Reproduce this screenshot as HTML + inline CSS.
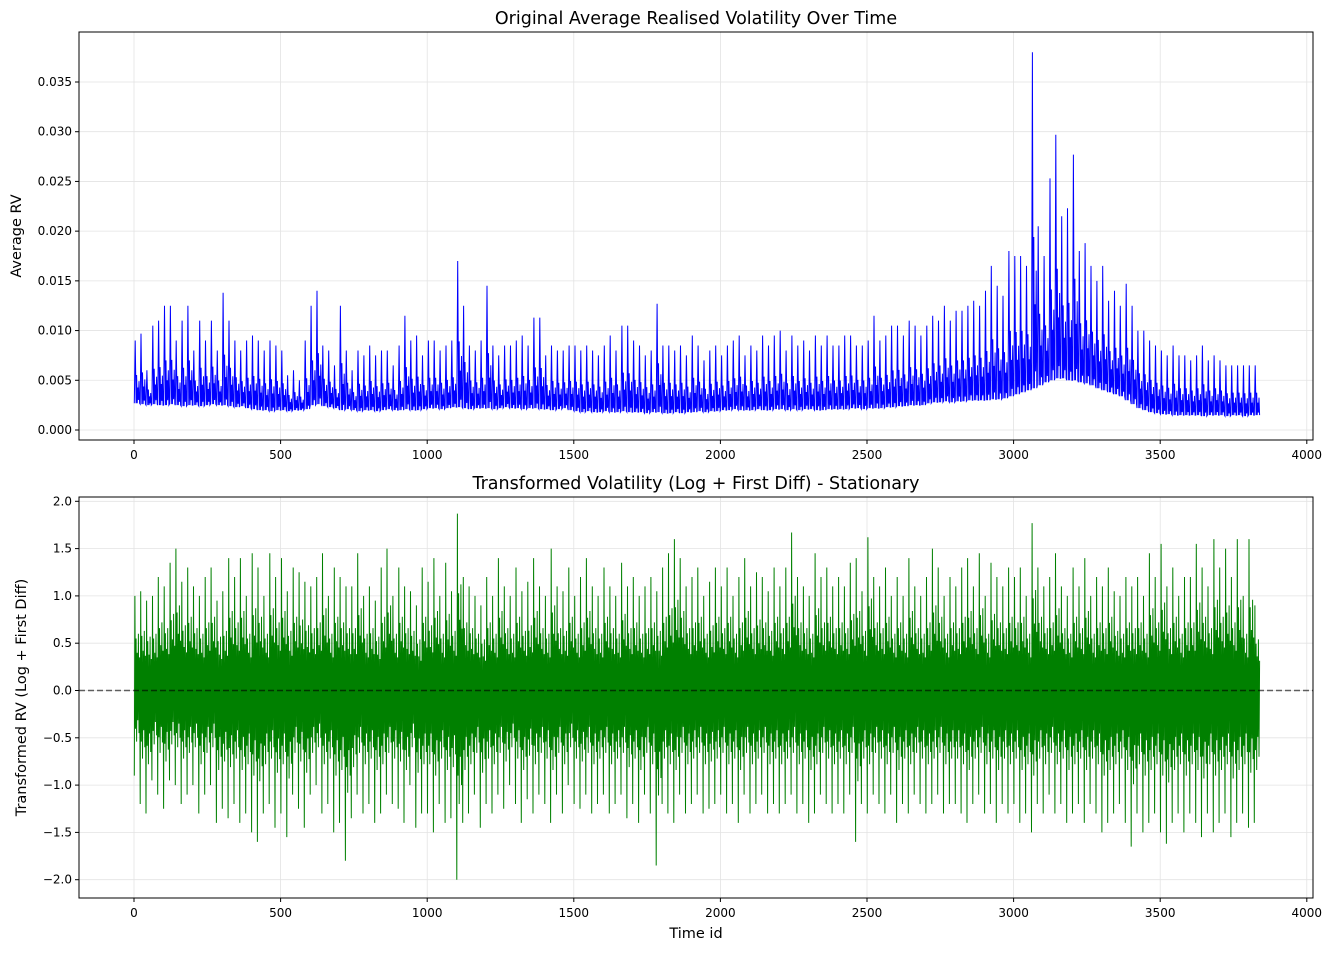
<!DOCTYPE html>
<html><head><meta charset="utf-8"><style>
body{margin:0;background:#fff}
text{font-family:"DejaVu Sans","Liberation Sans",sans-serif;fill:#000}
</style></head><body>
<svg id="chart" width="1333" height="950" xmlns="http://www.w3.org/2000/svg"></svg>
<script>
// Bucket size in time ids (each bucket summarised by its observed high and low)
const bucketSize = 20;
const rvHigh = [
0.009,0.0097,0.006,0.0105,0.011, 0.0125,0.0125,0.009,0.011,0.0125,
0.008,0.011,0.009,0.011,0.008, 0.0138,0.011,0.009,0.008,0.009,
0.0095,0.009,0.008,0.009,0.0085, 0.008,0.0055,0.006,0.005,0.009,
0.0125,0.014,0.0085,0.008,0.0065, 0.0125,0.008,0.006,0.008,0.0075,
0.0085,0.0075,0.008,0.008,0.0065, 0.0085,0.0115,0.009,0.0095,0.0075,
0.009,0.009,0.008,0.0085,0.009, 0.017,0.0125,0.0085,0.008,0.009,
0.0145,0.0085,0.0075,0.0085,0.0085, 0.009,0.0095,0.0085,0.0113,0.0113,
0.0075,0.0085,0.008,0.008,0.0085, 0.0085,0.008,0.0085,0.008,0.0075,
0.0085,0.0095,0.008,0.0105,0.0105, 0.009,0.0085,0.0075,0.008,0.0127,
0.0085,0.0085,0.008,0.0085,0.0075, 0.0095,0.0085,0.007,0.008,0.0085,
0.0075,0.0085,0.009,0.0095,0.0075, 0.0085,0.008,0.0095,0.0085,0.0095,
0.01,0.008,0.0095,0.0085,0.009, 0.008,0.0095,0.0085,0.0095,0.0085,
0.0085,0.0095,0.0095,0.0085,0.0085, 0.009,0.0115,0.009,0.0095,0.0105,
0.0105,0.0095,0.011,0.0105,0.0095, 0.0105,0.0115,0.011,0.0125,0.011,
0.012,0.012,0.0125,0.013,0.0125, 0.014,0.0165,0.0145,0.0135,0.018,
0.0175,0.0175,0.0165,0.038,0.0205, 0.0175,0.0253,0.0297,0.0215,0.0223,
0.0277,0.018,0.0188,0.0165,0.015, 0.0165,0.013,0.014,0.0125,0.0147,
0.0125,0.01,0.01,0.009,0.0085, 0.008,0.0075,0.0085,0.0075,0.0075,
0.007,0.0075,0.0085,0.007,0.0075, 0.007,0.0065,0.0065,0.0065,0.0065,
0.0065,0.0065];
const rvLow = [
0.0027,0.0026,0.0025,0.0026,0.0025, 0.0025,0.0026,0.0025,0.0024,0.0025,
0.0025,0.0024,0.0025,0.0026,0.0025, 0.0025,0.0024,0.0023,0.0024,0.0022,
0.0021,0.002,0.002,0.0019,0.002, 0.002,0.0019,0.002,0.002,0.0021,
0.0025,0.0026,0.0024,0.0023,0.0022, 0.002,0.0021,0.002,0.0019,0.002,
0.002,0.0019,0.002,0.0021,0.002, 0.002,0.0021,0.002,0.002,0.0021,
0.0022,0.0022,0.0021,0.0022,0.0023, 0.0023,0.0022,0.0021,0.0022,0.0022,
0.0022,0.0021,0.0022,0.0023,0.0022, 0.0022,0.0021,0.0022,0.0022,0.0021,
0.0021,0.002,0.0021,0.0022,0.002, 0.0019,0.0018,0.0019,0.0018,0.0018,
0.0019,0.0018,0.0018,0.0019,0.0018, 0.0018,0.0018,0.0017,0.0018,0.0018,
0.0017,0.0017,0.0018,0.0017,0.0018, 0.0018,0.0019,0.0018,0.0019,0.0019,
0.002,0.002,0.0021,0.002,0.002, 0.002,0.0021,0.002,0.002,0.0021,
0.0021,0.002,0.0021,0.002,0.0021, 0.0021,0.002,0.002,0.0021,0.0021,
0.0021,0.0021,0.0022,0.0022,0.0021, 0.0022,0.0022,0.0022,0.0023,0.0023,
0.0024,0.0024,0.0025,0.0025,0.0025, 0.0027,0.0028,0.0028,0.0029,0.0028,
0.0029,0.0029,0.003,0.003,0.003, 0.003,0.0031,0.0031,0.0032,0.0034,
0.0036,0.0038,0.004,0.0042,0.0045, 0.0048,0.005,0.0052,0.0052,0.005,
0.005,0.0048,0.0047,0.0045,0.0042, 0.004,0.0038,0.0036,0.0034,0.003,
0.0026,0.0022,0.002,0.0018,0.0017, 0.0016,0.0016,0.0015,0.0015,0.0015,
0.0015,0.0015,0.0014,0.0015,0.0015, 0.0015,0.0014,0.0015,0.0015,0.0014,
0.0015,0.0015];
const diffHigh = [
1.0,1.05,0.95,1.0,1.2,1.1,1.35,1.5,1.15,1.3,
1.1,1.0,1.2,1.3,0.95,1.05,1.4,1.2,1.4,1.0,
1.45,1.3,1.0,1.45,1.2,1.4,1.05,1.3,1.25,1.15,
1.1,1.2,1.45,1.0,1.3,1.2,1.1,1.1,1.45,1.0,
1.1,0.95,1.3,1.5,1.0,1.3,1.1,1.05,0.9,1.3,
1.15,1.4,1.0,1.35,1.05,1.87,1.2,1.1,1.0,0.9,
1.2,1.0,1.4,1.1,1.0,1.3,1.05,1.15,1.4,1.1,
1.0,1.5,1.1,1.05,1.3,1.0,1.2,1.4,1.1,1.0,
1.3,1.1,1.0,1.35,1.1,1.2,1.0,1.1,1.2,1.05,
1.3,1.45,1.6,1.4,1.1,1.2,1.3,1.0,1.15,1.3,
1.1,1.3,1.0,1.2,1.4,1.1,1.25,1.2,1.05,1.3,
1.1,1.3,1.67,1.2,1.1,1.0,1.45,1.2,1.3,1.1,
1.2,1.1,1.35,1.4,1.05,1.62,1.2,1.1,1.3,1.0,
1.2,1.0,1.4,1.1,1.0,1.2,1.5,1.3,1.0,1.2,
1.1,1.3,1.4,1.1,1.45,1.0,1.35,1.2,1.1,1.3,
1.2,1.3,1.0,1.77,1.3,1.1,1.2,1.45,1.1,1.0,
1.3,1.1,1.4,1.0,1.2,1.1,1.3,1.05,1.0,1.2,
1.1,1.2,1.0,1.45,1.2,1.55,1.1,1.3,1.0,1.2,
1.2,1.55,1.3,1.1,1.6,1.3,1.5,1.2,1.6,1.0,
1.6,0.9];
const diffLow = [
-0.9,-1.2,-1.3,-0.95,-1.1,-1.25,-0.95,-1.0,-1.2,-1.1,
-1.0,-1.3,-1.1,-1.0,-1.4,-1.25,-1.35,-1.2,-1.4,-1.3,
-1.5,-1.6,-1.3,-1.2,-1.45,-1.3,-1.55,-1.1,-1.25,-1.45,
-1.1,-1.0,-1.3,-1.2,-1.5,-1.4,-1.8,-1.35,-1.1,-1.3,
-1.2,-1.4,-1.3,-1.1,-1.2,-1.25,-1.4,-1.0,-1.45,-1.3,
-1.3,-1.5,-1.2,-1.4,-1.35,-2.0,-1.4,-1.3,-1.1,-1.45,
-1.2,-1.3,-1.1,-1.25,-1.0,-1.2,-1.4,-1.15,-1.3,-1.1,
-1.2,-1.4,-1.1,-1.3,-1.0,-1.2,-1.25,-1.1,-1.3,-1.2,
-1.1,-1.3,-1.2,-1.1,-1.35,-1.2,-1.4,-1.1,-1.3,-1.85,
-1.2,-1.3,-1.4,-1.1,-1.3,-1.2,-1.1,-1.3,-1.25,-1.2,
-1.1,-1.3,-1.2,-1.4,-1.1,-1.3,-1.2,-1.1,-1.3,-1.2,
-1.3,-1.2,-1.1,-1.3,-1.2,-1.4,-1.3,-1.1,-1.2,-1.3,
-1.2,-1.3,-1.1,-1.6,-1.2,-1.3,-1.1,-1.2,-1.3,-1.1,
-1.4,-1.2,-1.3,-1.1,-1.2,-1.3,-1.2,-1.1,-1.3,-1.2,
-1.2,-1.3,-1.4,-1.2,-1.1,-1.3,-1.2,-1.4,-1.2,-1.3,
-1.2,-1.4,-1.3,-1.5,-1.2,-1.3,-1.1,-1.3,-1.2,-1.4,
-1.3,-1.2,-1.4,-1.2,-1.3,-1.5,-1.4,-1.3,-1.2,-1.4,
-1.65,-1.3,-1.5,-1.4,-1.3,-1.5,-1.62,-1.4,-1.3,-1.5,
-1.3,-1.4,-1.55,-1.3,-1.5,-1.4,-1.3,-1.55,-1.4,-1.3,
-1.45,-1.4];
const xTicks = [0,500,1000,1500,2000,2500,3000,3500,4000];
const topYTicks = [0,0.005,0.01,0.015,0.02,0.025,0.03,0.035];
const topYLabels = ["0.000","0.005","0.010","0.015","0.020","0.025","0.030","0.035"];
const botYTicks = [-2,-1.5,-1,-0.5,0,0.5,1,1.5,2];
const botYLabels = ["\u22122.0","\u22121.5","\u22121.0","\u22120.5","0.0","0.5","1.0","1.5","2.0"];

const NS = "http://www.w3.org/2000/svg";
const svg = document.getElementById('chart');
function mk(tag, attrs, parent){
  const e = document.createElementNS(NS, tag);
  for (const k in attrs) e.setAttribute(k, attrs[k]);
  (parent||svg).appendChild(e);
  return e;
}
const L = 79, R = 1313;
const xS = t => 134 + t * 0.2932;
const panels = [
  {top:32, bottom:440, y:v => 430 - v * 9943, ticks:topYTicks, labels:topYLabels,
   title:"Original Average Realised Volatility Over Time", ylabel:"Average RV", name:"original"},
  {top:497, bottom:898, y:v => 690.5 - v * 94.6, ticks:botYTicks, labels:botYLabels,
   title:"Transformed Volatility (Log + First Diff) - Stationary", ylabel:"Transformed RV (Log + First Diff)", name:"transformed"}
];
// sub-bucket shape: fractions of the bucket range visited within each bucket
const topShape = [[1,0],[4,1],[7,0],[9,0.45],[11,0],[13,0.25],[15,0.05],[17,0.35],[19,0]];
const botShape = [[1,-1],[3,1],[5,-0.45],[7,0.55],[9,-0.6],[11,0.4],[13,-0.35],[15,0.6],[17,-0.5],[19,0.35]];
panels.forEach((p, pi) => {
  const g = mk('g', {});
  
  
  xTicks.forEach(t => { const l = mk('line', {x1:xS(t), x2:xS(t), y1:p.top, y2:p.bottom, stroke:'#e3e3e3', 'stroke-width':0.8}, g);
      });
  p.ticks.forEach(v => { const l = mk('line', {x1:L, x2:R, y1:p.y(v), y2:p.y(v), stroke:'#e3e3e3', 'stroke-width':0.8}, g);
      });
  const pts = [];
  const hi = pi === 0 ? rvHigh : diffHigh, lo = pi === 0 ? rvLow : diffLow;
  for (let i = 0; i < hi.length; i++) {
    const t0 = i * bucketSize;
    if (pi === 0) {
      topShape.forEach(s => pts.push(xS(t0 + s[0]).toFixed(1) + ',' + p.y(lo[i] + (hi[i] - lo[i]) * s[1]).toFixed(1)));
    } else {
      botShape.forEach(s => pts.push(xS(t0 + s[0]).toFixed(1) + ',' + p.y(s[1] > 0 ? hi[i] * s[1] : -lo[i] * s[1]).toFixed(1)));
    }
  }
  const line = mk('polyline', {points:pts.join(' '), fill:'none', stroke: pi === 0 ? '#0000ff' : '#008000', 'stroke-width':1}, g);
  
  
  if (pi === 1) {
    const z = mk('line', {x1:L, x2:R, y1:p.y(0), y2:p.y(0), stroke:'#000', 'stroke-opacity':0.6, 'stroke-width':1.5, 'stroke-dasharray':'6,3'}, g);
    
    
  }
  const fr = mk('rect', {x:L, y:p.top, width:R-L, height:p.bottom-p.top, fill:'none', stroke:'#000', 'stroke-width':1}, g);
  
  
  xTicks.forEach(t => {
    mk('line', {x1:xS(t), x2:xS(t), y1:p.bottom, y2:p.bottom+4, stroke:'#000'}, g);
    const tx = mk('text', {x:xS(t), y:p.bottom+19, 'text-anchor':'middle', 'font-size':12}, g);
    tx.textContent = t;
    
    
  });
  p.ticks.forEach((v, i) => {
    mk('line', {x1:L-4, x2:L, y1:p.y(v), y2:p.y(v), stroke:'#000'}, g);
    const tx = mk('text', {x:L-7, y:p.y(v)+4, 'text-anchor':'end', 'font-size':12}, g);
    tx.textContent = p.labels[i];
    
    
  });
  const ti = mk('text', {x:(L+R)/2, y:p.top-8, 'text-anchor':'middle', 'font-size':17.5}, g);
  ti.textContent = p.title;
  
  
  const yc = (p.top + p.bottom) / 2;
  const yl = mk('text', {x:0, y:0, 'text-anchor':'middle', 'font-size':14.5, transform:'translate(' + (pi===0?21:26) + ',' + yc + ') rotate(-90)'}, g);
  yl.textContent = p.ylabel;
  
  
});
const xl = mk('text', {x:(L+R)/2, y:938, 'text-anchor':'middle', 'font-size':14.5});
xl.textContent = 'Time id';


</script>
</body></html>
